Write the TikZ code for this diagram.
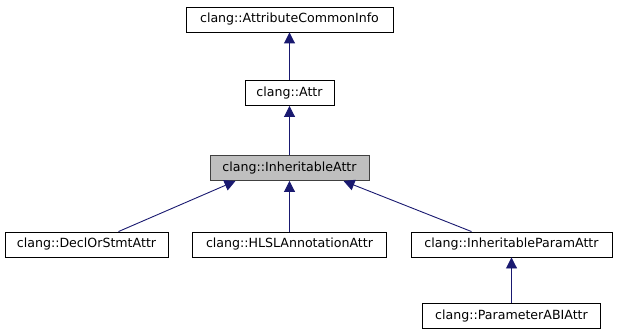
\documentclass[tikz,border=0pt]{standalone}
\usepackage{fontspec}
\setmainfont{DejaVu Sans}
\usetikzlibrary{arrows.meta}
\definecolor{edgeblue}{HTML}{191970}
\definecolor{focusgray}{HTML}{BFBFBF}
\begin{document}
\begin{tikzpicture}[x=1pt,y=-1pt,
  cls/.style={draw=black,fill=white,line width=0.9pt,inner sep=0pt,
    minimum height=25pt,font=\fontsize{12.6}{15}\selectfont},
  focus/.style={cls,fill=focusgray,draw=black!75},
  inherit/.style={draw=edgeblue,line width=0.9pt,
    {Triangle[length=11pt,width=11pt,fill=edgeblue]}-}]
\useasboundingbox (0,0) rectangle (617,336);
\node[cls,minimum width=207pt] (aci) at (289.5,19.5) {clang::AttributeCommonInfo};
\node[cls,minimum width=89pt] (attr) at (289.5,93) {clang::Attr};
\node[focus,minimum width=159pt] (inh) at (289.5,168) {clang::InheritableAttr};
\node[cls,minimum width=163pt] (decl) at (86.5,244.5) {clang::DeclOrStmtAttr};
\node[cls,minimum width=194pt] (hlsl) at (289.5,244.5) {clang::HLSLAnnotationAttr};
\node[cls,minimum width=201pt] (param) at (511.5,244.5) {clang::InheritableParamAttr};
\node[cls,minimum width=178pt] (abi) at (511.5,316) {clang::ParameterABIAttr};
\draw[inherit] (aci) -- (attr);
\draw[inherit] (attr) -- (inh);
\draw[inherit] (inh) -- (hlsl);
\draw[inherit] ([xshift=-54pt]inh.south) -- ([xshift=32pt]decl.north);
\draw[inherit] ([xshift=54pt]inh.south) -- ([xshift=-40pt]param.north);
\draw[inherit] (param) -- (abi);
\end{tikzpicture}
\end{document}
